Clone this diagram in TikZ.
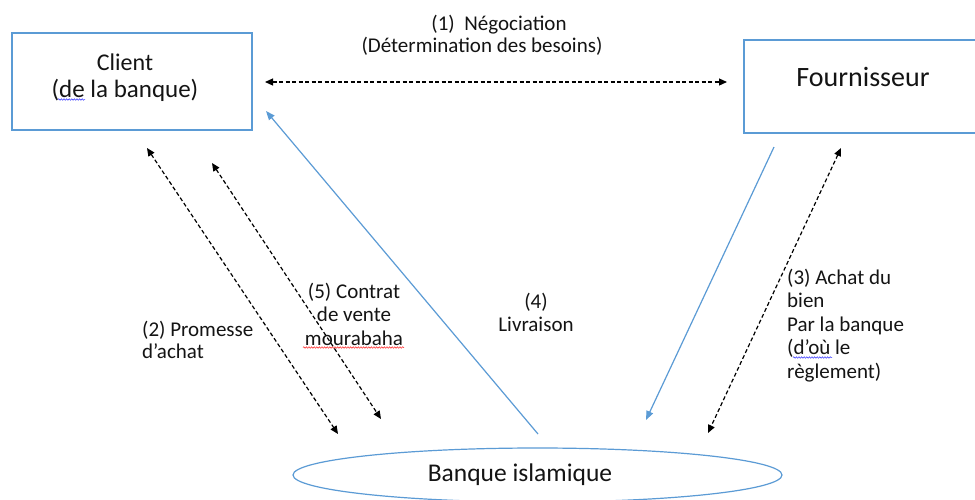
\documentclass[tikz,border=0pt]{standalone}
\usepackage{fontspec}
\setmainfont{Carlito}
\usetikzlibrary{arrows.meta,decorations.pathmorphing,shapes.geometric}
\definecolor{oblue}{RGB}{91,155,213}
\definecolor{txt}{RGB}{20,20,20}
\begin{document}
\begin{tikzpicture}[x=1pt,y=-1pt,
  box/.style={draw=oblue,line width=1.2pt,inner sep=0pt},
  dasharrow/.style={line width=1.2pt,dash pattern=on 4pt off 2.5pt,
     {Triangle[length=8pt,width=7pt]}-{Triangle[length=8pt,width=7pt]}},
  bluearrow/.style={draw=oblue,line width=1.2pt,-{Triangle[length=9pt,width=7pt]}},
  big/.style={font=\fontsize{24}{28}\selectfont,text=txt,inner sep=0pt},
  small/.style={font=\fontsize{21}{23.5}\selectfont,text=txt,inner sep=0pt},
  squig/.style={line width=0.5pt,decorate,decoration={snake,amplitude=0.8pt,segment length=2.6pt}}
]
\useasboundingbox (0,0) rectangle (975,499);
\clip (0,0) rectangle (975,499);
\fill[white] (0,0) rectangle (975,499);

% boxes
\node[box,minimum width=240pt,minimum height=97pt] (client) at (132,81.5) {};
\node[box,minimum width=250pt,minimum height=93pt] (four) at (869,86.5) {};
\node[box,ellipse,minimum width=489pt,minimum height=54pt] (bank) at (537.5,475) {};

% box texts
\node[big,anchor=base] (clientA) at (125,70) {Client};
\node[big,anchor=base,font=\fontsize{25}{28}\selectfont] (clientB) at (125,97) {(de la banque)};
\node[big,anchor=base,font=\fontsize{28}{30}\selectfont] (fourT) at (863,86) {Fournisseur};
\node[big,anchor=base,font=\fontsize{25.5}{28}\selectfont] (bankT) at (520,481) {Banque islamique};

% endpoints
\coordinate (n1) at (265,82);  \coordinate (n2) at (727,82);
\coordinate (p1) at (147,148); \coordinate (p2) at (338,434);
\coordinate (c1) at (212,163); \coordinate (c2) at (381,419);
\coordinate (l1) at (538,434); \coordinate (l2) at (266,111);
\coordinate (f1) at (774,147); \coordinate (f2) at (646,420);
\coordinate (a1) at (841,148); \coordinate (a2) at (708,433);

% connectors
\draw[dasharrow] (n1) -- (n2);
\draw[dasharrow] (p1) -- (p2);
\draw[dasharrow] (c1) -- (c2);
\draw[dasharrow] (a1) -- (a2);
\draw[bluearrow] (l1) -- (l2);
\draw[bluearrow] (f1) -- (f2);

% labels
\node[small,anchor=base] (neg1) at (499,30) {(1)\ \ Négociation};
\node[small,anchor=base] (neg2) at (482,52) {(Détermination des besoins)};
\node[small,anchor=base west] (pro1) at (142,336) {(2) Promesse};
\node[small,anchor=base west] (pro2) at (142,358) {d’achat};
\node[small,anchor=base] (con1) at (354,298) {(5) Contrat};
\node[small,anchor=base] (con2) at (354,321) {de vente};
\node[small,anchor=base] (con3) at (354,345) {mourabaha};
\node[small,anchor=base] (liv1) at (536,308) {(4)};
\node[small,anchor=base] (liv2) at (536,331) {Livraison};
\node[small,anchor=base west] (ach1) at (787,284) {(3) Achat du};
\node[small,anchor=base west] (ach2) at (787,307) {bien};
\node[small,anchor=base west] (ach3) at (787,331) {Par la banque};
\node[small,anchor=base west] (ach4) at (787,354) {(d’où le};
\node[small,anchor=base west] (ach5) at (787,378) {règlement)};

% spell-check squiggles
\draw[squig,blue!80] (58,99.5) -- (85,99.5);
\draw[squig,red!85] (303,347.5) -- (404,347.5);
\draw[squig,blue!80] (793,357.5) -- (832,357.5);
\end{tikzpicture}
\end{document}
